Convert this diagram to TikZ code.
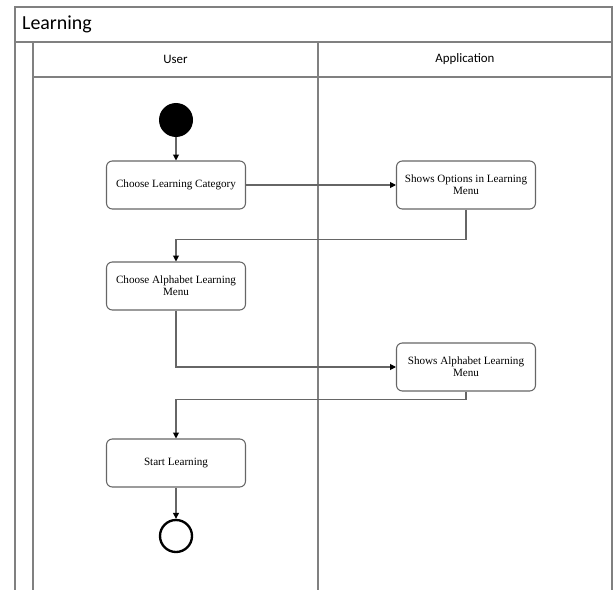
\documentclass[tikz,border=0pt]{standalone}
\usepackage{fontspec}
\setmainfont{Liberation Serif}
\newfontfamily\calibri{Carlito}
\usetikzlibrary{arrows.meta}

\begin{document}
\begin{tikzpicture}[x=0.03cm,y=0.03cm]
\tikzstyle{lane}=[draw=black!50,line width=1.5pt]
\tikzstyle{action}=[draw=black!60,line width=0.9pt,rounded corners=5pt,fill=white,
  minimum width=4.17cm,minimum height=1.44cm,align=center,
  inner sep=0pt,font=\fontsize{9.5}{10.5}\selectfont]
\tikzstyle{flow}=[draw=black!60,line width=0.9pt,-{Triangle[length=5pt,width=5pt,color=black]}]
\useasboundingbox (0,0) rectangle (614,-590);
% swimlane frame
\draw [lane] (15,-590) -- (15,-7) -- (612,-7) -- (612,-590);
\draw [lane] (15,-42) -- (612,-42);
\draw [lane] (33,-42) -- (33,-590);
\draw [lane] (318,-42) -- (318,-590);
\draw [lane] (33,-77) -- (612,-77);
\node [anchor=west,font=\calibri\fontsize{17}{17}\selectfont] (title) at (18,-24) {Learning};
\node [font=\calibri\fontsize{11}{11}\selectfont] (user) at (175.5,-59.5) {User};
\node [font=\calibri\fontsize{11}{11}\selectfont] (app) at (465,-59.5) {Application};
% activities
\node [circle,fill=black,minimum size=1.02cm,inner sep=0pt] (start) at (176,-120) {};
\node [action] (clc) at (176,-185) {Choose Learning Category};
\node [action] (som) at (466,-185) {Shows Options in Learning\\Menu};
\node [action] (calm) at (176,-286) {Choose Alphabet Learning\\Menu};
\node [action] (salm) at (466,-367) {Shows Alphabet Learning\\Menu};
\node [action] (sl) at (176,-463) {Start Learning};
\node [circle,draw=black,line width=2pt,minimum size=0.96cm,inner sep=0pt] (end) at (176,-536) {};
% flows
\draw [flow] (start) -- (clc);
\draw [flow] (clc) -- (som);
\draw [flow] (som.south) -- ++(0,-30) -| (calm.north);
\draw [flow] (calm.south) |- (salm.west);
\draw [flow] (salm.south) -- ++(0,-8) -| (sl.north);
\draw [flow] (sl) -- (end);
\end{tikzpicture}
\end{document}
